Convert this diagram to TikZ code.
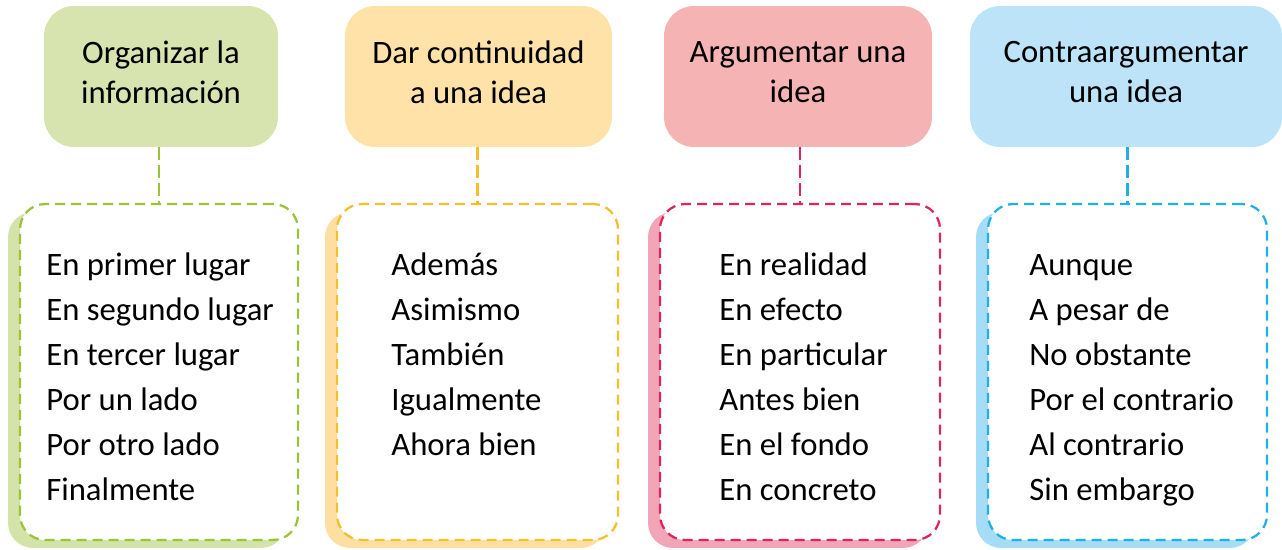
\documentclass[tikz,border=0pt]{standalone}
\usepackage{fontspec}
\setmainfont{Carlito}
\usetikzlibrary{shadows}

\definecolor{orgfill}{HTML}{D8E4AF}
\definecolor{orgline}{HTML}{9BC33A}
\definecolor{orgshade}{HTML}{D4E3A7}
\definecolor{contfill}{HTML}{FFE2A7}
\definecolor{contline}{HTML}{F6BD2C}
\definecolor{contshade}{HTML}{FDE0A1}
\definecolor{argfill}{HTML}{F5B3B4}
\definecolor{argline}{HTML}{E0245C}
\definecolor{argshade}{HTML}{F1A5B7}
\definecolor{contrafill}{HTML}{BDE3F8}
\definecolor{contraline}{HTML}{1FB0E6}
\definecolor{contrashade}{HTML}{A4DDF5}

\tikzset{
  head/.style={rounded corners=0.6cm, minimum height=2.82cm, align=center,
    inner sep=0pt, text depth=0.18cm, font=\fontsize{18.6}{22.8}\selectfont, fill=#1},
  frame/.style={rounded corners=0.5cm, minimum height=6.72cm, inner sep=0pt,
    fill=white, draw=#1line, line width=0.045cm, dash pattern=on 0.2cm off 0.12cm,
    drop shadow={shadow xshift=-0.24cm, shadow yshift=-0.16cm, opacity=1, fill=#1shade}},
  link/.style={draw=#1, line width=0.045cm, dash pattern=on 0.26cm off 0.1cm},
  item/.style={anchor=base west, inner sep=0pt, font=\fontsize{18.6}{22}\selectfont}
}

\begin{document}
\begin{tikzpicture}[x=0.02cm,y=-0.02cm]
\useasboundingbox (0,0) rectangle (1282,550);

% headers
\node[head=orgfill, minimum width=4.68cm] (org) at (161,76.5) {Organizar la\\información};
\node[head=contfill, minimum width=5.34cm] (cont) at (478.5,76.5) {Dar continuidad\\a una idea};
\node[head=argfill, minimum width=5.36cm] (arg) at (798,76.5) {Argumentar una\\idea};
\node[head=contrafill, minimum width=6.24cm] (contra) at (1126,76.5) {Contraargumentar\\una idea};

% dashed lists
\node[frame=org, minimum width=5.56cm] (orglist) at (159,372) {};
\node[frame=cont, minimum width=5.62cm] (contlist) at (477.5,372) {};
\node[frame=arg, minimum width=5.6cm] (arglist) at (800,372) {};
\node[frame=contra, minimum width=5.58cm] (contralist) at (1127.5,372) {};

% connectors
\draw[link=orgline] (orglist.north |- org.south) -- (orglist.north);
\draw[link=contline] (contlist.north |- cont.south) -- (contlist.north);
\draw[link=argline] (arglist.north |- arg.south) -- (arglist.north);
\draw[link=contraline] (contralist.north |- contra.south) -- (contralist.north);

% words
\foreach \t [count=\i] in {En primer lugar,En segundo lugar,En tercer lugar,Por un lado,Por otro lado,Finalmente}
  \node[item] (org-\i) at (46,{276+44.9*(\i-1)}) {\t};
\foreach \t [count=\i] in {Además,Asimismo,También,Igualmente,Ahora bien}
  \node[item] (cont-\i) at (391,{276+44.9*(\i-1)}) {\t};
\foreach \t [count=\i] in {En realidad,En efecto,En particular,Antes bien,En el fondo,En concreto}
  \node[item] (arg-\i) at (719,{276+44.9*(\i-1)}) {\t};
\foreach \t [count=\i] in {Aunque,A pesar de,No obstante,Por el contrario,Al contrario,Sin embargo}
  \node[item] (contra-\i) at (1029,{276+44.9*(\i-1)}) {\t};
\end{tikzpicture}
\end{document}
